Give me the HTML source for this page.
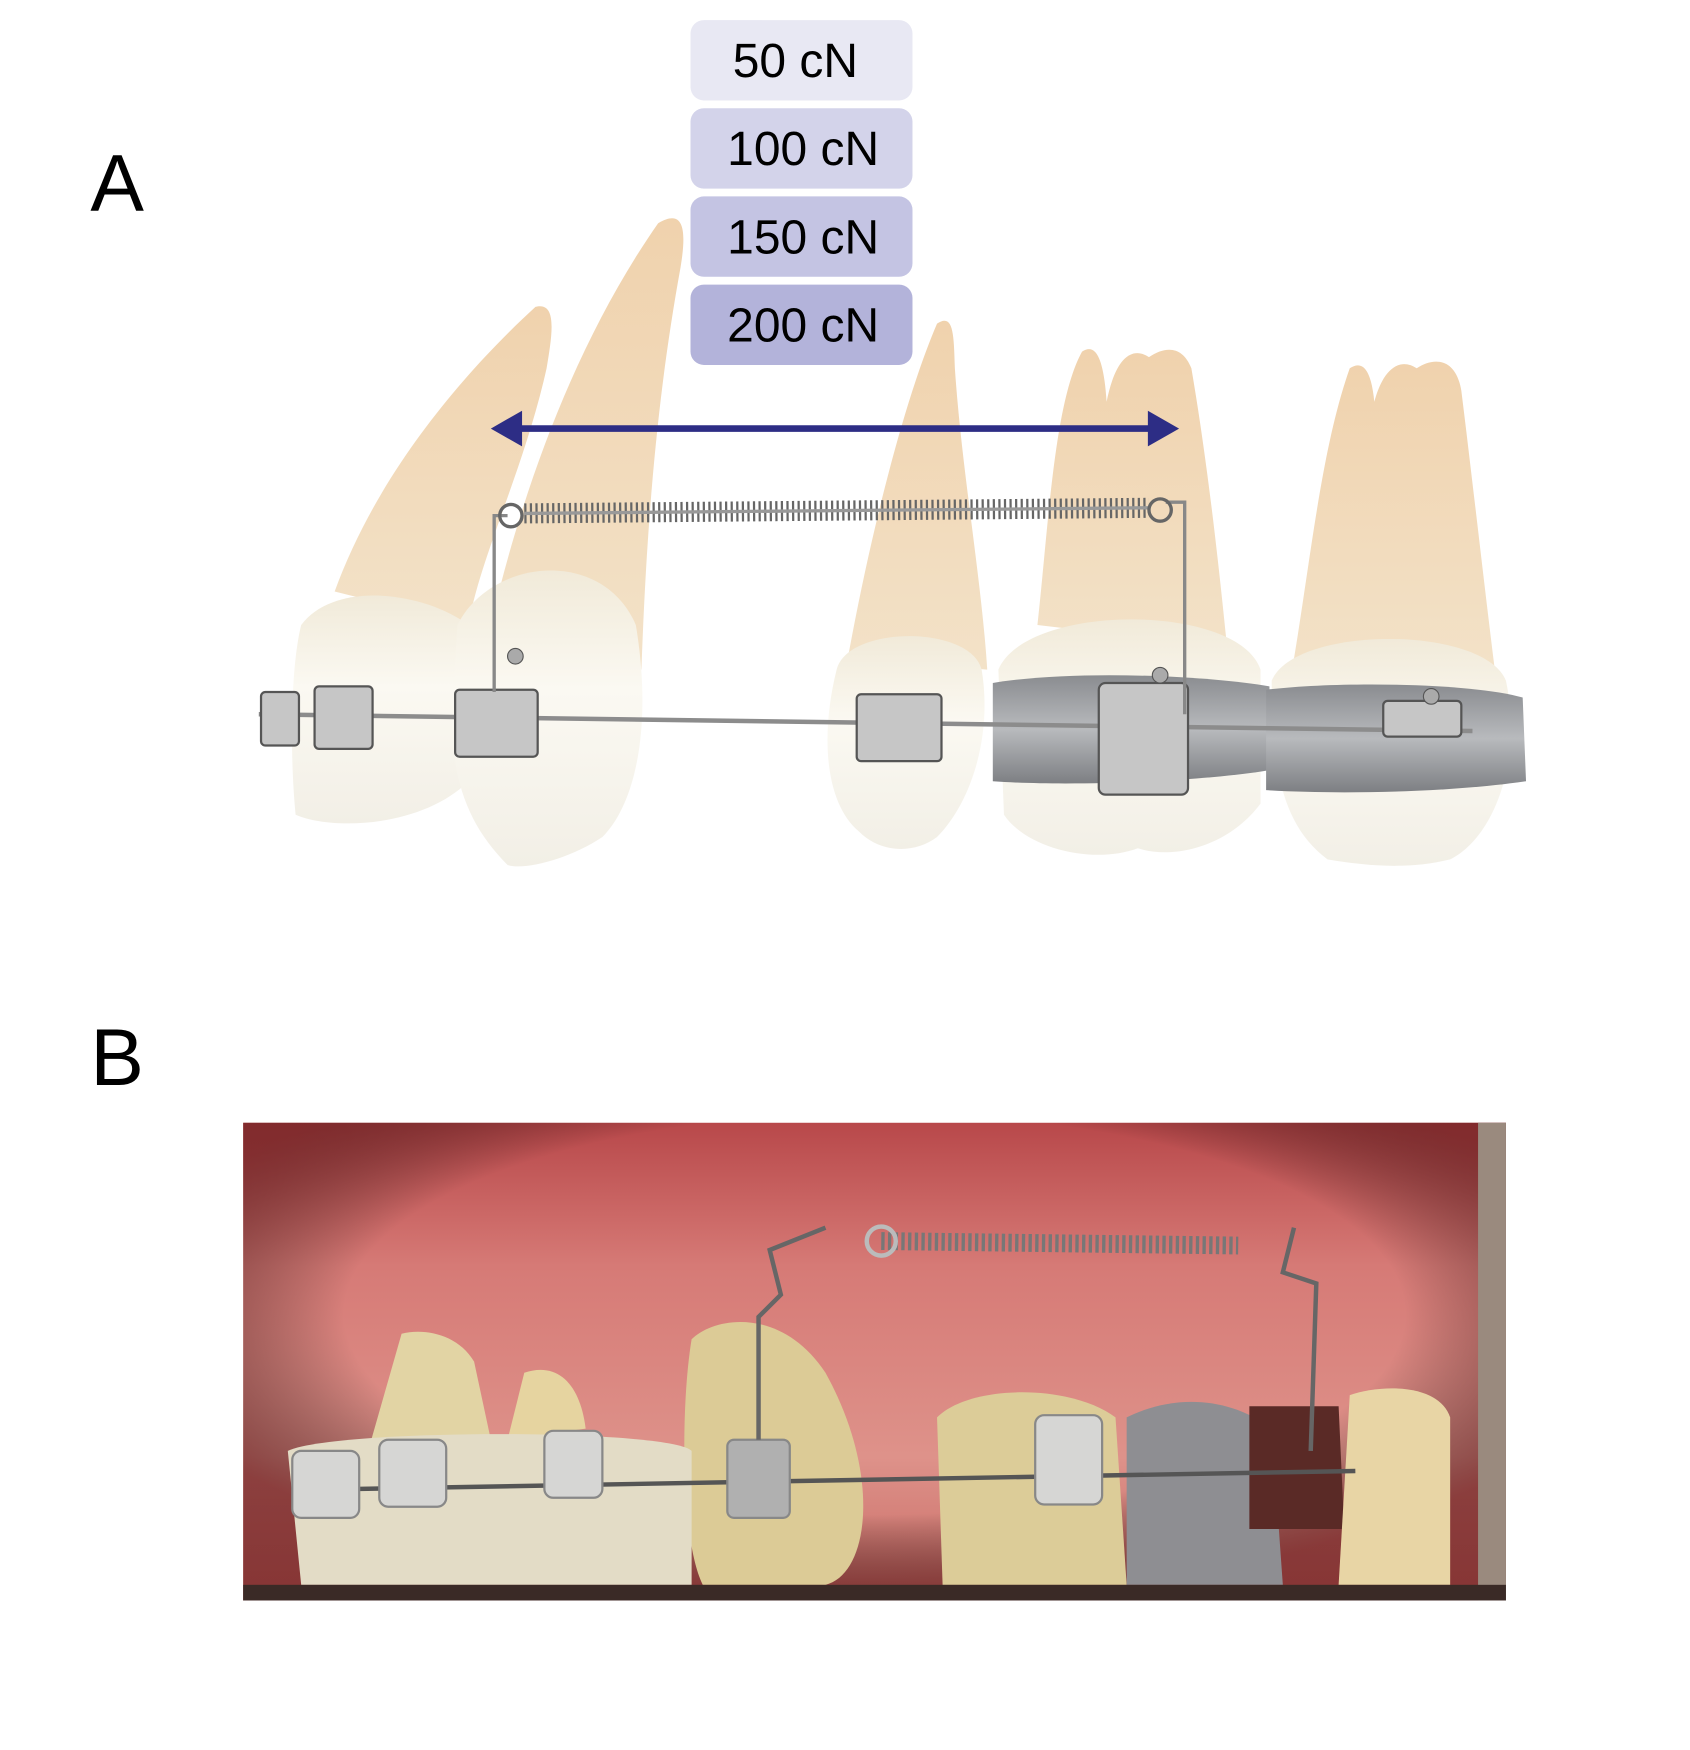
<!DOCTYPE html>
<html><head><meta charset="utf-8"><style>
html,body{margin:0;padding:0;background:#fff;}
svg{display:block}
text{font-family:"Liberation Sans",Arial,sans-serif}
</style></head><body>
<svg width="1690" height="1750" viewBox="0 0 1515 1568" preserveAspectRatio="none">
<defs>
<linearGradient id="root" x1="0" y1="0" x2="0" y2="1"><stop offset="0" stop-color="#f0d2ad"/><stop offset="1" stop-color="#f3e2c8"/></linearGradient>
<linearGradient id="crown" x1="0" y1="0" x2="0" y2="1"><stop offset="0" stop-color="#f1ead9"/><stop offset="0.4" stop-color="#fbf9f2"/><stop offset="1" stop-color="#f2efe6"/></linearGradient>
<linearGradient id="band" x1="0" y1="0" x2="0" y2="1"><stop offset="0" stop-color="#8a8c90"/><stop offset="0.5" stop-color="#b8babd"/><stop offset="1" stop-color="#7d7f83"/></linearGradient>
<linearGradient id="gum" x1="0" y1="0" x2="0" y2="1"><stop offset="0" stop-color="#b8484a"/><stop offset="0.3" stop-color="#d67a76"/><stop offset="0.7" stop-color="#de928a"/><stop offset="1" stop-color="#c86a64"/></linearGradient>
<radialGradient id="gumside" cx="0.5" cy="0.4" r="0.6"><stop offset="0.7" stop-color="#000" stop-opacity="0"/><stop offset="1" stop-color="#6a1e20" stop-opacity="0.7"/></radialGradient>
</defs>

<text x="81" y="189" font-size="72">A</text>
<text x="81" y="972" font-size="72">B</text>

<rect x="619" y="18" width="199" height="72" rx="12" fill="#e8e8f3"/>
<rect x="619" y="97" width="199" height="72" rx="12" fill="#d3d3ea"/>
<rect x="619" y="176" width="199" height="72" rx="12" fill="#c4c4e3"/>
<rect x="619" y="255" width="199" height="72" rx="12" fill="#b3b3da"/>
<text x="713" y="69" font-size="43" text-anchor="middle">50 cN</text>
<text x="720" y="148" font-size="43" text-anchor="middle">100 cN</text>
<text x="720" y="227" font-size="43" text-anchor="middle">150 cN</text>
<text x="720" y="306" font-size="43" text-anchor="middle">200 cN</text>

<!-- roots -->
<path d="M300 530 C340 420 420 330 480 275 C500 270 495 300 490 330 C470 420 430 500 420 560 Z" fill="url(#root)"/>
<path d="M440 560 C470 430 520 300 590 200 C615 185 615 210 610 240 C590 350 580 460 575 600 Z" fill="url(#root)"/>
<path d="M760 590 C780 480 810 360 840 290 C855 280 855 300 856 330 C862 420 880 520 885 600 Z" fill="url(#root)"/>
<path d="M930 560 C940 470 945 360 970 315 C985 305 990 330 992 360 C1000 320 1015 310 1030 320 C1045 310 1060 310 1068 330 C1080 400 1090 480 1100 580 Z" fill="url(#root)"/>
<path d="M1160 590 C1175 500 1185 400 1210 330 C1225 320 1230 340 1232 360 C1240 330 1255 320 1270 330 C1285 320 1305 320 1310 350 C1320 430 1330 520 1340 600 Z" fill="url(#root)"/>
<!-- crowns -->
<path d="M270 560 C300 520 380 530 420 560 L420 700 C380 740 300 745 265 730 C260 680 260 600 270 560 Z" fill="url(#crown)"/>
<path d="M410 560 C440 500 540 490 570 560 C585 650 570 720 540 750 C510 770 470 780 455 775 C420 740 405 700 405 640 Z" fill="url(#crown)"/>
<path d="M750 600 C760 560 870 560 880 600 C890 660 870 720 840 750 C820 765 790 765 770 745 C740 720 735 660 750 600 Z" fill="url(#crown)"/>
<path d="M895 600 C920 540 1110 540 1130 600 L1130 720 C1100 760 1050 770 1020 760 C980 775 920 760 900 730 Z" fill="url(#crown)"/>
<path d="M1140 610 C1160 560 1330 560 1350 610 C1365 680 1340 750 1300 770 C1260 780 1220 775 1190 770 C1150 740 1140 690 1140 610 Z" fill="url(#crown)"/>
<!-- bands -->
<path d="M890 612 C960 600 1080 605 1138 615 L1138 690 C1080 700 960 705 890 700 Z" fill="url(#band)"/>
<path d="M1135 618 C1200 610 1320 612 1365 625 L1368 700 C1300 710 1200 712 1135 708 Z" fill="url(#band)"/>
<!-- wire -->
<line x1="232" y1="640" x2="1320" y2="655" stroke="#8c8c8c" stroke-width="4"/>
<!-- brackets -->
<g fill="#c6c6c6" stroke="#555" stroke-width="2">
<rect x="234" y="620" width="34" height="48" rx="4"/>
<rect x="282" y="615" width="52" height="56" rx="4"/>
<rect x="408" y="618" width="74" height="60" rx="4"/>
<rect x="768" y="622" width="76" height="60" rx="4"/>
<rect x="985" y="612" width="80" height="100" rx="6"/>
<rect x="1240" y="628" width="70" height="32" rx="4"/>
</g>
<circle cx="462" cy="588" r="7" fill="#aaa" stroke="#555"/>
<circle cx="1040" cy="605" r="7" fill="#aaa" stroke="#555"/>
<circle cx="1283" cy="624" r="7" fill="#aaa" stroke="#555"/>
<!-- vertical arms -->
<path d="M443 620 L443 462 L455 462" fill="none" stroke="#888" stroke-width="3"/>
<path d="M1062 640 L1062 450 L1045 450" fill="none" stroke="#888" stroke-width="3"/>
<!-- spring -->
<line x1="470" y1="460" x2="1030" y2="455" stroke="#666" stroke-width="18" stroke-dasharray="2 3"/>
<line x1="470" y1="460" x2="1030" y2="455" stroke="#999" stroke-width="3"/>
<circle cx="458" cy="462" r="10" fill="none" stroke="#666" stroke-width="3"/>
<circle cx="1040" cy="457" r="10" fill="none" stroke="#666" stroke-width="3"/>
<!-- arrow -->
<line x1="460" y1="384" x2="1036" y2="384" stroke="#2d2d85" stroke-width="6"/>
<polygon points="440,384 468,368 468,400" fill="#2d2d85"/>
<polygon points="1057,384 1029,368 1029,400" fill="#2d2d85"/>

<!-- photo B -->
<g>
<rect x="218" y="1006" width="1132" height="428" fill="url(#gum)"/>
<rect x="218" y="1006" width="1132" height="428" fill="url(#gumside)"/>
<rect x="1325" y="1006" width="25" height="428" fill="#9a8a7e"/>
<path d="M360 1195 C380 1190 410 1195 425 1220 L440 1290 L330 1300 Z" fill="#e2d4a4"/>
<path d="M470 1230 C500 1220 520 1240 525 1280 L455 1290 Z" fill="#e6d4a0"/>
<path d="M620 1200 C640 1180 700 1170 740 1230 C790 1320 780 1410 740 1420 L630 1420 C610 1380 610 1260 620 1200 Z" fill="#dccb96"/>
<path d="M258 1300 C300 1280 600 1280 620 1300 L620 1420 L270 1420 Z" fill="#e3dcc6"/>
<path d="M840 1270 C870 1240 960 1240 1000 1270 L1010 1420 L845 1420 Z" fill="#dccc98"/>
<path d="M1010 1270 C1050 1250 1100 1250 1140 1280 L1150 1420 L1010 1420 Z" fill="#8e8e92"/>
<path d="M1120 1260 L1200 1260 L1205 1370 L1120 1370 Z" fill="#5a2a26"/>
<path d="M1210 1250 C1240 1240 1290 1240 1300 1270 L1300 1420 L1200 1420 Z" fill="#e8d5a5"/>
<rect x="218" y="1420" width="1132" height="14" fill="#3a2a26"/>
<line x1="270" y1="1335" x2="1215" y2="1318" stroke="#555" stroke-width="4"/>
<g fill="#d6d6d4" stroke="#888" stroke-width="2">
<rect x="262" y="1300" width="60" height="60" rx="8"/>
<rect x="340" y="1290" width="60" height="60" rx="8"/>
<rect x="488" y="1282" width="52" height="60" rx="8"/>
<rect x="652" y="1290" width="56" height="70" rx="6" fill="#b0b0b0"/>
<rect x="928" y="1268" width="60" height="80" rx="8"/>
</g>
<path d="M680 1290 L680 1180 L700 1160 L690 1120 L740 1100" fill="none" stroke="#666" stroke-width="4"/>
<path d="M1175 1300 L1180 1150 L1150 1140 L1160 1100" fill="none" stroke="#666" stroke-width="4"/>
<line x1="790" y1="1112" x2="1110" y2="1116" stroke="#777" stroke-width="16" stroke-dasharray="3 3"/>
<circle cx="790" cy="1112" r="13" fill="none" stroke="#bbb" stroke-width="4"/>
</g>
</svg>
</body></html>
